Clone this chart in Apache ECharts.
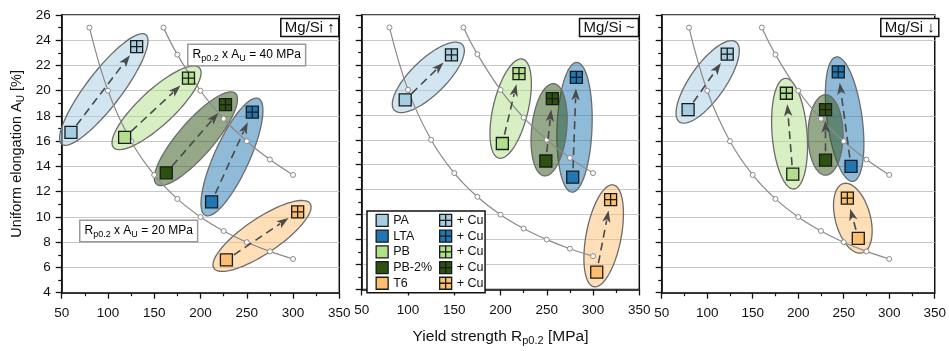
<!DOCTYPE html>
<html><head><meta charset="utf-8">
<script src="https://cdn.jsdelivr.net/npm/echarts@6/dist/echarts.min.js"></script>
<style>html,body{margin:0;padding:0;background:#fff}#c{width:949px;height:351px}</style>
</head><body><div id="c"></div>
<script>
// ---- data ----
const groups = ['PA', 'LTA', 'PB', 'PB-2%', 'T6'];
const panelTitles = ['Mg/Si ↑', 'Mg/Si ~', 'Mg/Si ↓'];
// base alloy (no Cu) and + Cu, per panel, order as groups
const upBase   = [[60, 16.7], [212, 11.2], [118, 16.3], [163, 13.5], [228, 6.6]];
const upCu     = [[131, 23.5], [256, 18.3], [187, 21.0], [227, 18.9], [305, 10.4]];
const eqBase   = [[97, 19.2], [278, 13.0], [202, 15.7], [249, 14.3], [304, 5.4]];
const eqCu     = [[147, 22.8], [282, 21.0], [220, 21.3], [256, 19.3], [319, 11.2]];
const downBase = [[79, 18.5], [258, 14.0], [194, 13.4], [230, 14.5], [266, 8.3]];
const downCu   = [[122, 22.9], [244, 21.5], [187, 19.8], [230, 18.5], [254, 11.5]];
// iso-lines Rp0.2 x AU = const
const iso20 = [[80, 25], [100, 20], [125, 16], [150, 13.33], [175, 11.43], [200, 10], [225, 8.89], [250, 8], [275, 7.27], [300, 6.67]];
const iso40 = [[160, 25], [175, 22.86], [200, 20], [225, 17.78], [250, 16], [275, 14.55], [300, 13.33]];
const xRange = [50, 350, 50];
const yRange = [4, 26, 2];

// ---- styles ----
const colors = ['#a6cee3', '#1f78b4', '#b2df8a', '#2c5210', '#fdbf6f'];
const FONT = '"Liberation Sans", Arial, sans-serif';
const gridLefts = [61.7, 361.7, 661.7];
const gridW = 277.6, gridTop = 15, gridH = 277.7;
const cuPath = 'path://M0,0H12V12H0Z M6,0V12 M0,6H12';

function hexA(h, a) {
  const r = parseInt(h.slice(1, 3), 16), g = parseInt(h.slice(3, 5), 16), b = parseInt(h.slice(5, 7), 16);
  return `rgba(${r},${g},${b},${a})`;
}

const panelsData = [[upBase, upCu], [eqBase, eqCu], [downBase, downCu]];

function ellipseItem(params, api) {
  const p1 = api.coord([api.value(0), api.value(1)]);
  const p2 = api.coord([api.value(2), api.value(3)]);
  const gi = api.value(4);
  const cx = (p1[0] + p2[0]) / 2, cy = (p1[1] + p2[1]) / 2;
  const dx = p2[0] - p1[0], dy = p2[1] - p1[1];
  const L = Math.hypot(dx, dy) || 1, ux = dx / L, uy = dy / L;
  const a = L / 2 + 15, b = 17.5;
  const pts = [];
  for (let i = 0; i < 90; i++) {
    const t = i / 90 * 2 * Math.PI;
    const ca = a * Math.cos(t), sb = b * Math.sin(t);
    pts.push([cx + ca * ux - sb * uy, cy + ca * uy + sb * ux]);
  }
  return { type: 'polygon', shape: { points: pts },
    style: { fill: hexA(colors[gi], 0.5), stroke: '#6b6b6b', lineWidth: 1.3 } };
}

function arrowItem(params, api) {
  const p1 = api.coord([api.value(0), api.value(1)]);
  const p2 = api.coord([api.value(2), api.value(3)]);
  const dx = p2[0] - p1[0], dy = p2[1] - p1[1];
  const L = Math.hypot(dx, dy) || 1, ux = dx / L, uy = dy / L;
  const s = [p1[0] + ux * 9, p1[1] + uy * 9];
  const tip = [p2[0] - ux * 11, p2[1] - uy * 11];
  const hl = 12, hw = 4.2;
  const bx = tip[0] - ux * hl, by = tip[1] - uy * hl;
  return { type: 'group', children: [
    { type: 'line', shape: { x1: s[0], y1: s[1], x2: bx + ux * 2, y2: by + uy * 2 },
      style: { stroke: '#4a4a4a', lineWidth: 1.6, lineDash: [8, 5] } },
    { type: 'polygon', shape: { points: [tip, [bx - uy * hw, by + ux * hw], [tip[0] - ux * hl * 0.75, tip[1] - uy * hl * 0.75], [bx + uy * hw, by - ux * hw]] },
      style: { fill: '#4a4a4a' } }
  ] };
}

const grids = [], xAxes = [], yAxes = [], series = [], titles = [];
const subRich = (fs) => ({
  a: { fontSize: fs, fontFamily: FONT, color: '#111', lineHeight: fs + 4 },
  s: { fontSize: Math.round(fs * 0.7), fontFamily: FONT, color: '#111', verticalAlign: 'bottom', lineHeight: Math.round(fs * 0.8) }
});

for (let p = 0; p < 3; p++) {
  grids.push({ left: gridLefts[p], top: gridTop, width: gridW, height: gridH, show: true,
    borderColor: '#111', borderWidth: 1.5, backgroundColor: 'transparent' });
  xAxes.push({ type: 'value', gridIndex: p, min: xRange[0], max: xRange[1], interval: xRange[2],
    axisLine: { onZero: false, lineStyle: { color: '#111', width: 1.5 } },
    axisTick: { show: true, length: 6, lineStyle: { color: '#111', width: 1.3 } },
    minorTick: { show: true, splitNumber: 2, length: 3.5, lineStyle: { color: '#111', width: 1.2 } },
    splitLine: { show: false },
    axisLabel: { fontSize: 13.5, fontFamily: FONT, color: '#111', margin: 14, showMinLabel: true, showMaxLabel: true },
    name: p === 1 ? '{a|Yield strength R}{s|p0.2}{a| [MPa]}' : '',
    nameLocation: 'middle', nameGap: 37,
    nameTextStyle: { rich: subRich(15.5) } });
  yAxes.push({ type: 'value', gridIndex: p, min: yRange[0], max: yRange[1], interval: yRange[2],
    axisLine: { onZero: false, lineStyle: { color: '#111', width: 1.5 } },
    axisTick: { show: true, length: 6, lineStyle: { color: '#111', width: 1.3 } },
    minorTick: { show: true, splitNumber: 2, length: 3.5, lineStyle: { color: '#111', width: 1.2 } },
    splitLine: { show: true, lineStyle: { color: '#c8c8c8', width: 1.2 } },
    axisLabel: { show: p === 0, fontSize: 13.5, fontFamily: FONT, color: '#111', margin: 11 },
    name: p === 0 ? '{a|Uniform elongation A}{s|U}{a| [%]}' : '',
    nameLocation: 'middle', nameGap: 35, nameRotate: 90,
    nameTextStyle: { rich: subRich(14.5) } });
  titles.push({ text: panelTitles[p], right: 949 - (gridLefts[p] + gridW) + 0.5, top: 18.5,
    borderColor: '#111', borderWidth: 1.5, padding: [2, 4, 1, 4], backgroundColor: '#fff',
    textStyle: { fontSize: 15, fontWeight: 'normal', fontFamily: FONT, color: '#111' } });

  const [base, cu] = panelsData[p];
  const pairData = groups.map((g, i) => [base[i][0], base[i][1], cu[i][0], cu[i][1], i]);
  series.push({ type: 'custom', xAxisIndex: p, yAxisIndex: p, renderItem: ellipseItem, data: pairData,
    dimensions: ['x1', 'y1', 'x2', 'y2', 'g'], encode: { x: [0, 2], y: [1, 3] }, z: 1, silent: true, clip: false });
  [iso20, iso40].forEach(line => series.push({ type: 'line', xAxisIndex: p, yAxisIndex: p, data: line,
    smooth: 0.4, symbol: 'circle', symbolSize: 5, showSymbol: true, z: 2, silent: true,
    lineStyle: { color: '#8a8a8a', width: 1.2 },
    itemStyle: { color: '#fff', borderColor: '#8a8a8a', borderWidth: 1 } }));
  series.push({ type: 'custom', xAxisIndex: p, yAxisIndex: p, renderItem: arrowItem, data: pairData,
    dimensions: ['x1', 'y1', 'x2', 'y2', 'g'], encode: { x: [0, 2], y: [1, 3] }, z: 3, silent: true, clip: false });
  groups.forEach((g, i) => {
    series.push({ type: 'scatter', name: g, xAxisIndex: p, yAxisIndex: p, data: [base[i]],
      symbol: 'rect', symbolSize: 12, z: 5,
      itemStyle: { color: colors[i], borderColor: '#1a1a1a', borderWidth: 1.3, opacity: 1 } });
  });
  groups.forEach((g, i) => {
    series.push({ type: 'scatter', name: g + ' + Cu', xAxisIndex: p, yAxisIndex: p, data: [cu[i]],
      symbol: cuPath, symbolSize: 12, z: 5,
      itemStyle: { color: colors[i], borderColor: '#1a1a1a', borderWidth: 1.3, opacity: 1 } });
  });
}

const annRich = {
  a: { fontSize: 12, fontFamily: FONT, color: '#111', lineHeight: 16 },
  s: { fontSize: 9, fontFamily: FONT, color: '#111', verticalAlign: 'bottom', lineHeight: 10 }
};
const legendText = { fontSize: 12.5, fontFamily: FONT, color: '#111', lineHeight: 12 };

const chart = echarts.init(document.getElementById('c'), null, { renderer: 'canvas' });
const option = {
  animation: false,
  backgroundColor: '#fff',
  title: titles,
  grid: grids, xAxis: xAxes, yAxis: yAxes, series: series,
  legend: [
    { data: groups, orient: 'vertical', left: 367, top: 211,
      itemWidth: 12, itemHeight: 12, itemGap: 2.4, padding: [2.8, 53, 2.8, 8.5],
      borderColor: '#111', borderWidth: 1.5, backgroundColor: '#fff',
      textStyle: legendText,
      itemStyle: { borderColor: '#1a1a1a', borderWidth: 1.3 } },
    { data: groups.map(g => g + ' + Cu'), orient: 'vertical', left: 439, top: 213.8,
      itemWidth: 12, itemHeight: 12, itemGap: 2.4, padding: 0, z: 5,
      formatter: () => '+ Cu',
      textStyle: legendText,
      itemStyle: { borderColor: '#1a1a1a', borderWidth: 1.3 } }
  ],
  graphic: [
    { type: 'text', left: 187, top: 43.5, z: 10,
      style: { text: '{a|R}{s|p0.2}{a| x A}{s|U}{a| = 40 MPa}', rich: annRich,
        backgroundColor: '#fff', borderColor: '#9a9a9a', borderWidth: 1.5, padding: [2, 4, 2, 4] } },
    { type: 'text', left: 79, top: 219.5, z: 10,
      style: { text: '{a|R}{s|p0.2}{a| x A}{s|U}{a| = 20 MPa}', rich: annRich,
        backgroundColor: '#fff', borderColor: '#9a9a9a', borderWidth: 1.5, padding: [2, 4, 2, 4] } }
  ]
};
chart.setOption(option);
</script></body></html>
